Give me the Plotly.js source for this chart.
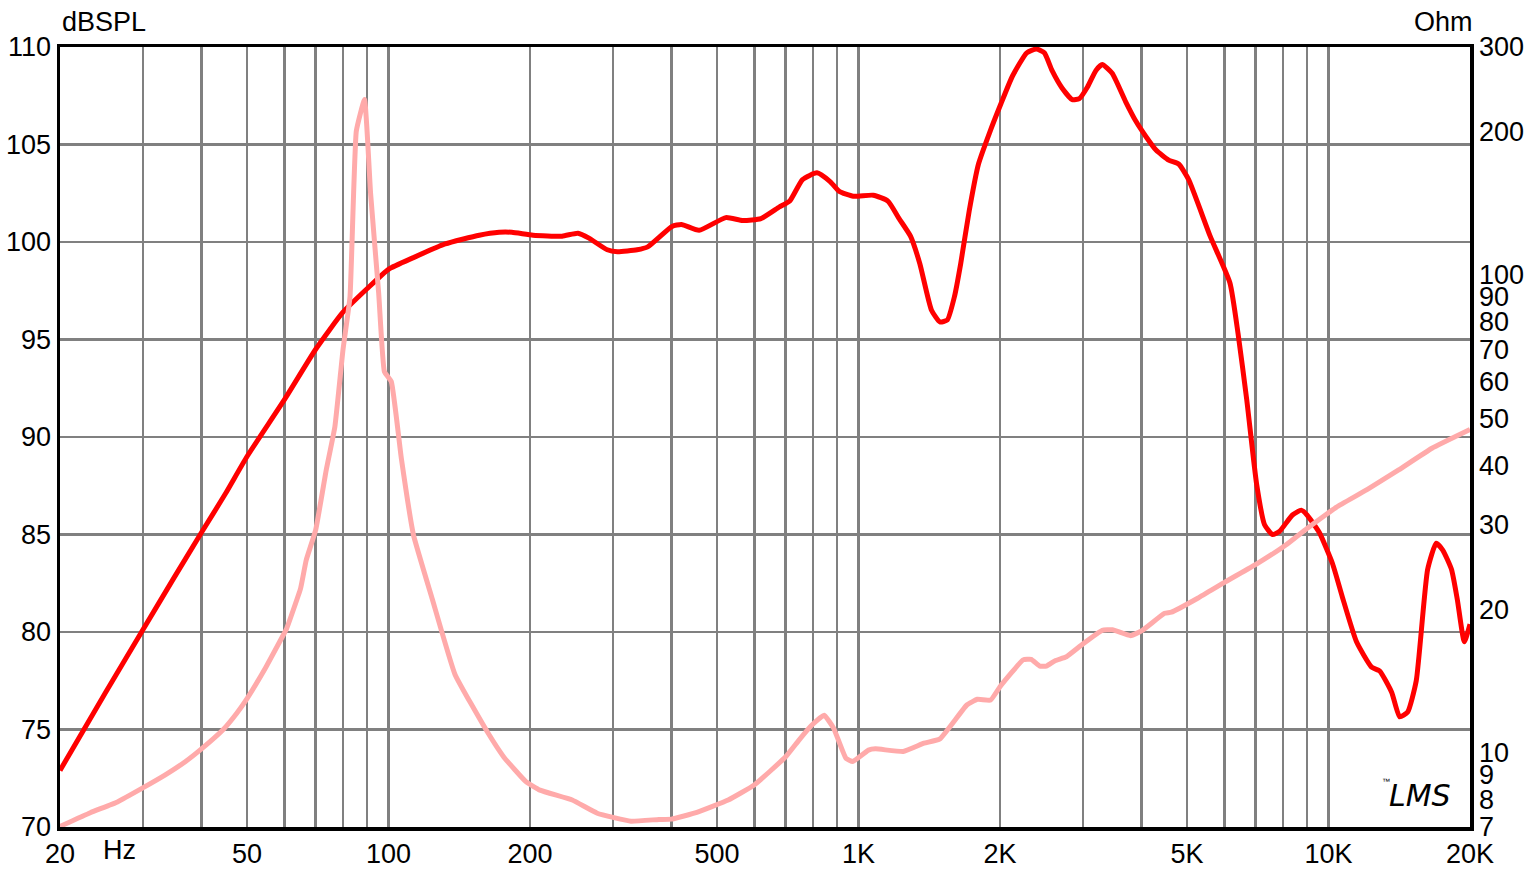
<!DOCTYPE html>
<html>
<head>
<meta charset="utf-8">
<script src="https://cdn.plot.ly/plotly-3.0.1.min.js"></script>
<style>
html,body{margin:0;padding:0;background:#fff;}
#chart{width:1537px;height:869px;}
</style>
</head>
<body>
<div id="chart"></div>
<script>
// SPL response (Hz, dB)
const splFreq = [20,25,30,35,40,45,50,60,70,80,90,100,113,132,156,172,183,203,234,253,267,292,307,338,356,401,420,458,522,567,620,679,714,760,816,870,910,975,1075,1155,1220,1290,1350,1430,1490,1545,1600,1650,1720,1800,1900,2010,2125,2280,2390,2485,2580,2710,2850,2950,3070,3200,3300,3465,3700,3890,4090,4300,4570,4800,5040,5600,6170,6420,6700,7030,7310,7600,7860,8380,8750,9000,9560,10200,10700,11470,12350,12850,13630,14170,14740,15370,16250,16950,17500,18270,18800,19450,20000];
const splDb = [72.9,76.9,80.1,82.8,85.1,87.1,89.0,91.9,94.5,96.4,97.6,98.6,99.2,99.9,100.35,100.5,100.5,100.35,100.3,100.45,100.2,99.6,99.5,99.6,99.75,100.8,100.9,100.6,101.25,101.1,101.2,101.8,102.1,103.2,103.55,103.1,102.6,102.35,102.4,102.1,101.2,100.3,98.9,96.5,95.9,96.0,97.2,98.9,101.6,104.0,105.6,107.1,108.5,109.7,109.9,109.7,108.8,107.9,107.3,107.35,107.95,108.8,109.1,108.65,107.2,106.2,105.4,104.7,104.2,104.0,103.2,100.3,97.9,95.3,91.9,87.6,85.5,85.0,85.15,86.0,86.25,86.0,85.1,83.5,81.8,79.5,78.2,78.0,76.9,75.65,75.9,77.5,83.2,84.55,84.2,83.2,81.65,79.5,80.4];

// Impedance (Hz, Ohm)
const impFreq = [20,23.2,26.5,30,33.5,37,40,44.5,47.5,50,54.8,60,60.7,65,66.8,70,73.7,76.9,80,82.8,85.4,88.9,91.6,95.3,98,101.4,106.5,113,123.9,138.5,162,176,196,210,246,278,328,376,400,453,528,600,700,747,793,845,885,940,972,1050,1087,1245,1378,1490,1700,1790,1910,2000,2240,2330,2430,2510,2620,2770,3000,3300,3470,3790,4000,4480,4630,5280,6030,7050,8100,9000,9950,10400,12100,14100,16600,20000];
const impOhm = [7.02,7.5,7.9,8.45,9.0,9.6,10.2,11.2,12.1,13.0,15.1,17.8,18.2,22.1,25.3,29.3,39.1,48.2,69.7,90,200,233,148,91.6,62.8,59.8,41.3,28.6,21.0,14.6,11.1,9.8,8.71,8.36,7.97,7.48,7.2,7.26,7.27,7.51,7.97,8.57,9.82,10.64,11.4,12.0,11.27,9.75,9.6,10.14,10.2,10.07,10.48,10.7,12.6,12.95,12.9,13.76,15.66,15.7,15.2,15.2,15.6,15.9,16.9,18.05,18.1,17.6,18.0,19.6,19.7,21.1,22.8,24.9,27.2,29.5,31.7,32.7,35.6,39.1,43.4,47.5];

// Axis ticks
const xGridVals = [20,30,40,50,60,70,80,90,100,200,300,400,500,600,700,800,900,1000,2000,3000,4000,5000,6000,7000,8000,9000,10000,20000];
const xLabelMap = {20:'20',50:'50',100:'100',200:'200',500:'500',1000:'1K',2000:'2K',5000:'5K',10000:'10K',20000:'20K'};
const yVals = [70,75,80,85,90,95,100,105,110];
const y2Vals = [7,8,9,10,20,30,40,50,60,70,80,90,100,200,300];

const FONT = 'Liberation Sans, Arial, sans-serif';
const FS = 27;

const traces = [
  {x: impFreq, y: impOhm, type:'scatter', mode:'lines', line:{color:'#ffaaaa', width:5, shape:'spline', smoothing:0.35}, yaxis:'y2', hoverinfo:'skip'},
  {x: splFreq, y: splDb, type:'scatter', mode:'lines', line:{color:'#ff0000', width:5, shape:'spline', smoothing:0.5}, yaxis:'y', hoverinfo:'skip'}
];

const layout = {
  width:1537, height:869,
  margin:{l:60, r:67, t:47, b:42, pad:0},
  paper_bgcolor:'#ffffff', plot_bgcolor:'#ffffff',
  showlegend:false,
  font:{family:FONT, size:FS, color:'#000'},
  xaxis:{
    type:'log', range:[Math.log10(20), Math.log10(20000)],
    tickmode:'array', tickvals:xGridVals, ticktext:xGridVals.map(v => xLabelMap[v] || ''),
    showgrid:true, gridcolor:'#808080', gridwidth:2.5,
    showline:true, linecolor:'#000', linewidth:3.5, mirror:true,
    ticks:'', zeroline:false, tickfont:{family:FONT, size:FS, color:'#000'}
  },
  yaxis:{
    range:[70,110], tickmode:'array', tickvals:yVals, ticktext:yVals.map(String),
    showgrid:true, gridcolor:'#808080', gridwidth:2.5,
    showline:true, linecolor:'#000', linewidth:3.5, mirror:true,
    ticks:'', zeroline:false, tickfont:{family:FONT, size:FS, color:'#000'}
  },
  yaxis2:{
    type:'log', range:[Math.log10(7), Math.log10(300)], overlaying:'y', side:'right',
    tickmode:'array', tickvals:y2Vals, ticktext:y2Vals.map(String),
    showgrid:false, showline:true, linecolor:'#000', linewidth:3.5,
    ticks:'', zeroline:false, tickfont:{family:FONT, size:FS, color:'#000'}
  },
  annotations:[
    {text:'dBSPL', xref:'paper', yref:'paper', x:0, y:1, xanchor:'left', yanchor:'bottom', yshift:8, showarrow:false, font:{family:FONT, size:FS}},
    {text:'Ohm', xref:'paper', yref:'paper', x:1.0035, y:1, xanchor:'right', yanchor:'bottom', yshift:8, showarrow:false, font:{family:FONT, size:FS}},
    {text:'Hz', xref:'paper', yref:'paper', x:0.042, y:0, xanchor:'center', yanchor:'top', yshift:-6, showarrow:false, font:{family:FONT, size:FS}},
    {text:'<i>LMS</i>', xref:'paper', yref:'paper', x:0.9645, y:0.041, xanchor:'center', yanchor:'middle', showarrow:false, font:{family:'DejaVu Sans, sans-serif', size:30}},
    {text:'™', xref:'paper', yref:'paper', x:0.9405, y:0.058, xanchor:'center', yanchor:'middle', showarrow:false, font:{family:FONT, size:8}}
  ]
};

Plotly.newPlot('chart', traces, layout, {staticPlot:true, displayModeBar:false});
</script>
</body>
</html>
